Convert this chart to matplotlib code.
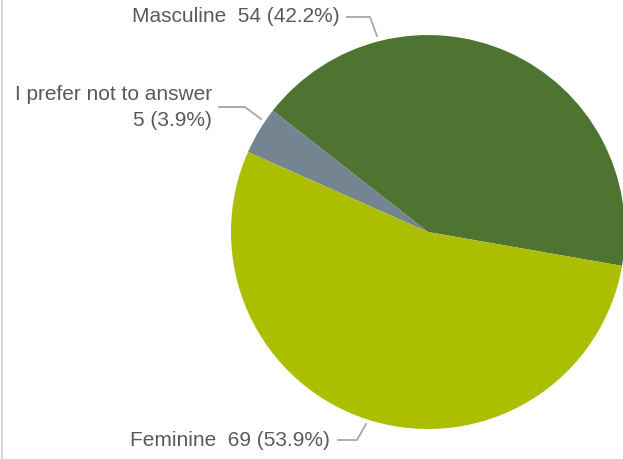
import matplotlib.pyplot as plt
from matplotlib.lines import Line2D

# Data
labels = ["Masculine", "I prefer not to answer", "Feminine"]
counts = [54, 5, 69]
colors = ["#4f7330", "#758491", "#abbf00"]

total = sum(counts)
pcts = [c / total * 100 for c in counts]

plt.rcParams['font.family'] = ['Liberation Sans', 'DejaVu Sans']

fig = plt.figure(figsize=(6.23, 4.59), dpi=100)
ax = fig.add_axes([0, 0, 1, 1])
ax.set_xlim(0, 623)
ax.set_ylim(0, 459)
ax.set_aspect('equal')
ax.axis('off')

H = 459
ax.pie(counts, colors=colors, startangle=-9.9, counterclock=True,
       center=(428, H - 232), radius=197,
       wedgeprops=dict(linewidth=0))
ax.set_xlim(0, 623)
ax.set_ylim(0, 459)

txt = dict(color="#595959", fontsize=15, ha="right", va="center")
lc = "#a6a6a6"

# Masculine
ax.text(340, H - 17, f"{labels[0]}  {counts[0]} ({pcts[0]:.1f}%)", **txt)
ax.plot([347, 370, 377], [H - 17, H - 17, H - 36], color=lc, lw=1.3)

# Prefer not to answer
ax.text(212, H - 95, labels[1], **txt)
ax.text(212, H - 120, f"{counts[1]} ({pcts[1]:.1f}%)", **txt)
ax.plot([219, 245, 261], [H - 107, H - 107, H - 119], color=lc, lw=1.3)

# Feminine
ax.text(330, H - 440, f"{labels[2]}  {counts[2]} ({pcts[2]:.1f}%)", **txt)
ax.plot([338, 357, 366], [H - 440, H - 440, H - 424], color=lc, lw=1.3)

# left border line
fig.add_artist(Line2D([0.003, 0.003], [0, 1], transform=fig.transFigure,
                      color="#d9d9d9", lw=1.5))

fig.savefig("out.png", dpi=100, facecolor="white")
